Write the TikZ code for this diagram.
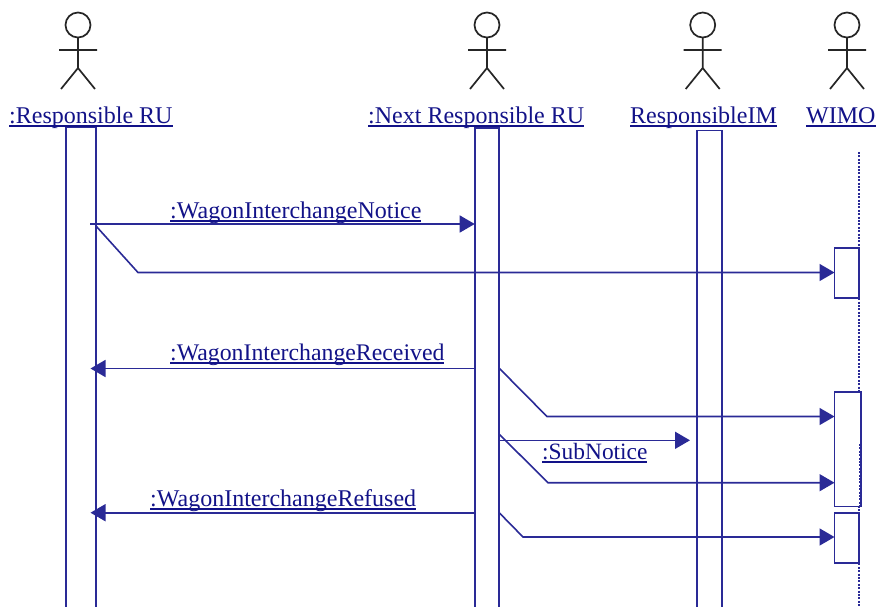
\documentclass[tikz,border=0pt]{standalone}
\usepackage{fontspec}
\setmainfont{Liberation Serif}
\usetikzlibrary{arrows.meta}
\definecolor{uml}{HTML}{2A2A96}
\definecolor{umltext}{HTML}{121288}
\newsavebox{\ulbox}
\newcommand{\ultext}[1]{\sbox{\ulbox}{#1}\rlap{\rule[-3.8pt]{\wd\ulbox}{2pt}}\usebox{\ulbox}}
\tikzset{
  x=1pt,y=-1pt,
  label/.style={anchor=base west,inner sep=0pt,text=umltext,font=\fontsize{24}{24}\selectfont},
  life/.style={draw=uml,line width=1.9pt,inner sep=0pt,outer sep=0pt,anchor=north west},
  msg/.style={draw=uml,line width=1.6pt,-{Triangle[length=15pt,width=17pt]}},
  stick/.style={draw=black!85,line width=1.7pt},
  dots/.style={draw=uml,line width=1.7pt,dash pattern=on 2pt off 1.4pt},
}
\newcommand{\actor}[1]{%
  \draw[stick] (#1,25) circle[radius=12.5];
  \draw[stick] (#1,38) -- (#1,68) (#1-19,50) -- (#1+19,50) (#1-17,89) -- (#1,68) -- (#1+17,89);
}
\begin{document}
\begin{tikzpicture}
\useasboundingbox (0,0) rectangle (878,606);
\actor{78}\actor{487}\actor{702.7}\actor{847}
% names
\node[label] (lru)  at (9,123)   {\ultext{:Responsible RU}};
\node[label] (lnru) at (368,123) {\ultext{:Next Responsible RU}};
\node[label] (lim)  at (630,123) {\ultext{ResponsibleIM}};
\node[label] (lw)   at (806,123) {\ultext{WIMO}};
% WIMO lifeline
\coordinate (wtop) at (859,152);
\coordinate (wbot) at (859,606);
\draw[dots] (wtop) -- (wbot);
% activation bars
\node[life,minimum width=30pt,minimum height=490pt] (ru) at (66,127.5) {};
\node[life,minimum width=24pt,minimum height=490pt] (nru) at (474.7,128) {};
\node[life,minimum width=25.5pt,minimum height=490pt] (im) at (696.8,130.5) {};
\node[life,fill=white,minimum width=24.5pt,minimum height=50pt] (w1) at (834.5,248) {};
\node[life,fill=white,minimum width=26.5pt,minimum height=114.5pt] (w2) at (834.5,392) {};
\node[life,fill=white,minimum width=24.5pt,minimum height=50pt] (w3) at (834.5,512.7) {};
\coordinate (w2a) at (859.5,444);
\coordinate (w2b) at (859.5,506);
\draw[dots] (w2a) -- (w2b);
% message points
\coordinate (m1s) at (90,224);
\coordinate (m1e) at (nru.west |- m1s);
\coordinate (m2s) at (96,226);
\coordinate (m2k) at (138,272.5);
\coordinate (m3e) at (90.5,368.5);
\coordinate (m3s) at (nru.west |- m3e);
\coordinate (m4s) at (499,368);
\coordinate (m4k) at (547,416.5);
\coordinate (m5s) at (499,440.3);
\coordinate (m5e) at (690,440.3);
\coordinate (m6s) at (499,434);
\coordinate (m6k) at (548,482.7);
\coordinate (m7e) at (90.5,512.7);
\coordinate (m7s) at (nru.west |- m7e);
\coordinate (m8s) at (499,512.5);
\coordinate (m8k) at (523,537);
% messages
\draw[msg] (m1s) -- (m1e);
\draw[msg] (m2s) -- (m2k) -- (w1.west |- m2k);
\draw[msg] (m3s) -- (m3e);
\draw[msg] (m4s) -- (m4k) -- (w2.west |- m4k);
\draw[msg] (m5s) -- (m5e);
\draw[msg] (m6s) -- (m6k) -- (w2.west |- m6k);
\draw[msg] (m7s) -- (m7e);
\draw[msg] (m8s) -- (m8k) -- (w3.west |- m8k);
% message labels
\node[label] (t1) at (170,218) {\ultext{:WagonInterchangeNotice}};
\node[label] (t2) at (170,360) {\ultext{\fontsize{23.8}{24}\selectfont :WagonInterchangeReceived}};
\node[label] (t3) at (150,506) {\ultext{:WagonInterchangeRefused}};
\node[label] (t4) at (542,459) {\ultext{\fontsize{23.4}{24}\selectfont :SubNotice}};
\end{tikzpicture}
\end{document}
